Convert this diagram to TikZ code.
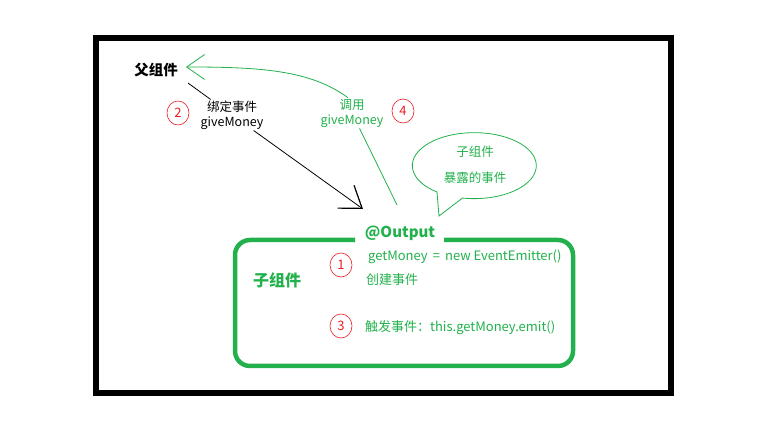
\documentclass[tikz,border=0pt]{standalone}
\usepackage{fontspec}
\setmainfont{Noto Sans CJK SC}
\usetikzlibrary{arrows.meta,shapes.geometric,calc}
\definecolor{pgreen}{HTML}{22B14C}
\definecolor{pred}{HTML}{ED1C24}
\begin{document}
\begin{tikzpicture}[x=1pt,y=-1pt,
  txt/.style={inner sep=1pt, font=\fontsize{12.5}{15}\selectfont},
  gtxt/.style={txt,text=pgreen},
  boxtxt/.style={gtxt, anchor=west, font=\fontsize{13}{15}\selectfont},
  num/.style={ellipse, draw=pred, line width=0.6pt, text=pred, minimum width=22pt, minimum height=24pt, inner sep=0pt, font=\fontsize{13}{14}\selectfont},
  thinline/.style={line width=0.8pt},
  blackbarb/.style={-{Straight Barb[length=20pt,width=28pt,line width=1.2pt]}},
  greenbarb/.style={-{Straight Barb[length=18pt,width=25pt,line width=0.8pt]}}
]
\useasboundingbox (0,0) rectangle (766,430);
\fill[white] (0,0) rectangle (766,430);
\draw[line width=5.5pt] (96,38) rectangle (671,393);

% parent side
\node[font=\fontsize{14.5}{16}\selectfont\bfseries, inner sep=2pt] (parent) at (156,70) {父组件};
\node[txt, align=center] (bind) at (232,115) {绑定事件\\giveMoney};
\node[num] (n2) at (178,113) {2};
\node[gtxt, align=center] (call) at (352,113) {调用\\giveMoney};
\node[num] (n4) at (403,111) {4};

% speech bubble
\draw[pgreen, line width=0.8pt, fill=white] (437,192) arc[start angle=127, end angle=461, x radius=62, y radius=33] -- (439,216) -- cycle;
\node[gtxt] (bub1) at (475,152) {子组件};
\node[gtxt] (bub2) at (475,178) {暴露的事件};

% child box
\draw[pgreen, line width=4.5pt, rounded corners=15pt] (355,240) -- (235,240) -- (235,366) -- (573,366) -- (573,240) -- (444,240);
\node[text=pgreen, font=\fontsize{15}{17}\selectfont\bfseries] (output) at (400,233) {@Output};
\node[text=pgreen, font=\fontsize{16}{18}\selectfont\bfseries] (child) at (277,280) {子组件};
\node[num] (n1) at (341,265) {1};
\node[num] (n3) at (341,326) {3};
\node[boxtxt] (create) at (367,257) {getMoney \,=\, new EventEmitter()};
\node[boxtxt] (createcn) at (365,280) {创建事件};
\node[boxtxt] (emit) at (364,328) {触发事件：this.getMoney.emit()};

% connectors
\coordinate (bstart) at (188,83);
\coordinate (btip) at (363,209);
\draw[thinline] (bstart) -- (bind);
\draw[thinline, blackbarb] (bind) -- (btip);

\coordinate (gfoot) at (397,205);
\coordinate (gtip) at ($(parent.east)+(6,-3)$);
\draw[thinline, pgreen] (call) -- (gfoot);
\draw[thinline, pgreen, greenbarb] (call.105) .. controls (310,70) and (260,67) .. (gtip);
\end{tikzpicture}
\end{document}
